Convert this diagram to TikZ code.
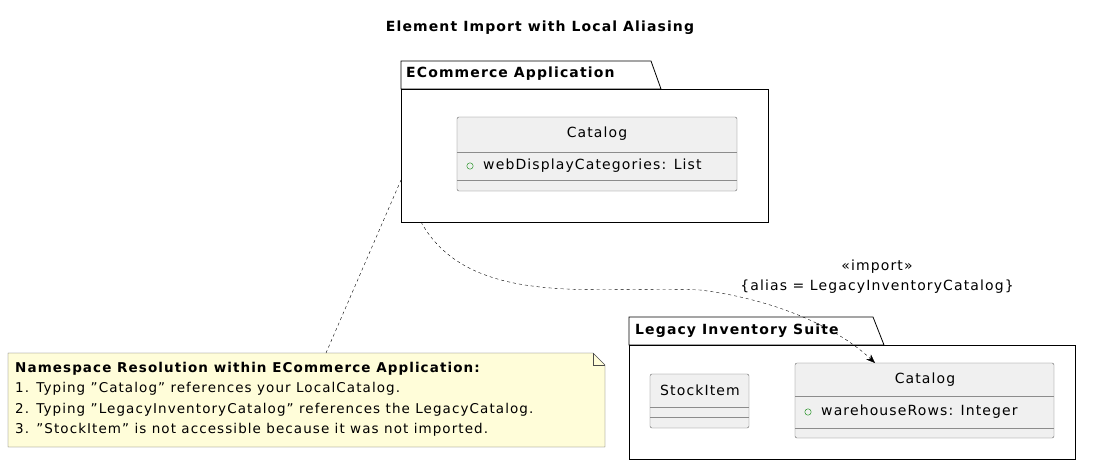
\documentclass[tikz,border=0pt]{standalone}
\usepackage{fontspec}
\setmainfont{DejaVu Sans}[LetterSpace=8]
\usetikzlibrary{arrows.meta, positioning}

\begin{document}
\begin{tikzpicture}[
    x=1pt, y=-1pt,
    pkg/.style={draw, thick, fill=white},
    cls/.style={draw=black!60, fill=black!6, rounded corners=2pt},
    sep/.style={draw=black!45},
    txt/.style={font=\fontsize{14}{16}\selectfont, inner sep=0pt},
    tab/.style={font=\fontsize{14}{16}\selectfont\bfseries, inner sep=0pt, anchor=west},
    dep/.style={dashed, -{Stealth[length=9pt, width=7pt]}}
]
\useasboundingbox (0,0) rectangle (1097,471);

% Title
\node[font=\fontsize{14}{16}\selectfont\bfseries] (title) at (540,28) {Element Import with Local Aliasing};

% Package: ECommerce Application
\draw[pkg] (401,89) -- (401,61) -- (651,61) -- (661,89) -- cycle;
\draw[pkg] (401,89) rectangle (768,222);
\node[tab] (ecomtab) at (406,74) {ECommerce Application};
\coordinate (ecom) at (401,180);
\coordinate (ecomout) at (421,222);

\draw[cls] (457,117) rectangle (737,191);
\draw[sep] (457,152) -- (737,152) (457,180) -- (737,180);
\node[txt] (catalogA) at (597,134) {Catalog};
\node[txt, anchor=west] (webcat) at (483,166) {webDisplayCategories: List};
\draw[green!50!black, thin] (470,166) circle (3.2);

% Package: Legacy Inventory Suite
\draw[pkg] (629,345) -- (629,317) -- (873,317) -- (884,345) -- cycle;
\draw[pkg] (629,345) rectangle (1075,459);
\node[tab] (legacytab) at (635,331) {Legacy Inventory Suite};

\draw[cls] (650,374) rectangle (749,428);
\draw[sep] (650,407) -- (749,407) (650,417) -- (749,417);
\node[txt] (stock) at (700,390) {StockItem};

\draw[cls] (795,363) rectangle (1054,438);
\draw[sep] (795,396) -- (1054,396) (795,428) -- (1054,428);
\node[txt] (catalogB) at (925,380) {Catalog};
\node[txt, anchor=west] (rows) at (821,412) {warehouseRows: Integer};
\draw[green!50!black, thin] (808,412) circle (3.2);
\coordinate (catalogBtop) at (875,363);

% Note
\draw[draw=black!70, fill=yellow!15] (8,353) -- (593,353) -- (605,365) -- (605,447) -- (8,447) -- cycle;
\draw[draw=black!70] (593,353) -- (593,365) -- (605,365);
\node[font=\fontsize{13.5}{20.5}\selectfont, inner sep=0pt, anchor=north west, align=left] (note) at (15,362)
  {\textbf{Namespace Resolution within ECommerce Application:}\\
   1. Typing "Catalog" references your LocalCatalog.\\
   2. Typing "LegacyInventoryCatalog" references the LegacyCatalog.\\
   3. "StockItem" is not accessible because it was not imported.};
\coordinate (notetop) at (326,353);

% Connectors
\draw[dashed] (notetop) -- (ecom);
\draw[dep] (ecomout) .. controls (470,310) and (600,285) .. (700,290)
  .. controls (780,300) and (840,330) .. (catalogBtop);
\node[txt] (imp) at (877,267) {«import»};
\node[txt] (alias) at (877,287) {\{alias = LegacyInventoryCatalog\}};

\end{tikzpicture}
\end{document}
